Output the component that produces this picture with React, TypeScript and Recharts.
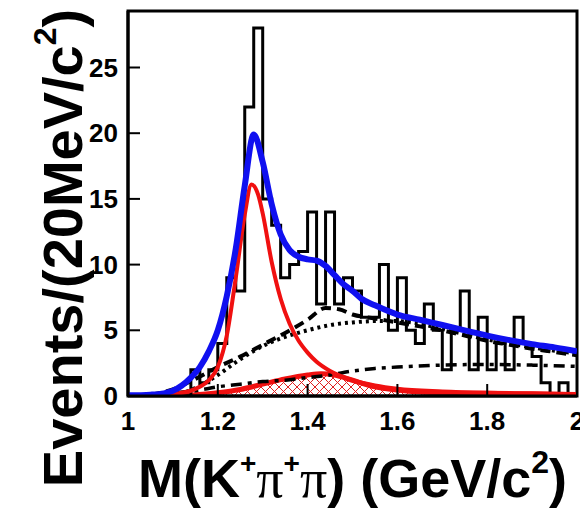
import React from 'react';
import { ComposedChart, Line, Area, XAxis, YAxis, ReferenceArea, Label } from 'recharts';

// Histogram: 20 MeV bins from 1.0 to 2.0 GeV
const binLow = 1.0;
const binWidth = 0.02;
const counts = [
  0, 0, 0, 0, 0, 0, 0, 2, 1, 2,
  4, 9, 8, 22, 28, 15, 13, 9, 10, 11,
  14, 7, 14, 7, 9, 8, 6, 6, 10, 5,
  9, 5, 4, 7, 5, 2, 5, 8, 2, 6,
  2, 4, 2, 6, 4, 3, 1, 0, 1, 0,
];

// Total fit (blue)
const totalM = [1.0, 1.05, 1.08, 1.1, 1.12, 1.14, 1.16, 1.18, 1.2, 1.22, 1.24, 1.26, 1.28, 1.3, 1.32, 1.34, 1.36, 1.38, 1.4, 1.42, 1.44, 1.46, 1.48, 1.5, 1.52, 1.55, 1.6, 1.65, 1.7, 1.75, 1.8, 1.85, 1.9, 1.95, 2.0];
const totalV = [0.05, 0.1, 0.2, 0.4, 0.8, 1.4, 2.2, 3.4, 5.0, 7.6, 11.2, 16.0, 19.9, 17.8, 14.6, 12.3, 11.1, 10.6, 10.4, 10.3, 9.9, 9.2, 8.5, 8.0, 7.4, 6.9, 6.2, 5.8, 5.4, 5.0, 4.6, 4.25, 3.95, 3.7, 3.4];

// K1(1270) component (red)
const k1M = [1.0, 1.05, 1.1, 1.14, 1.16, 1.18, 1.2, 1.22, 1.24, 1.26, 1.275, 1.29, 1.3, 1.32, 1.34, 1.36, 1.38, 1.4, 1.42, 1.45, 1.5, 1.55, 1.6, 1.7, 1.8, 1.9, 2.0];
const k1V = [0.02, 0.05, 0.15, 0.4, 0.7, 1.2, 2.2, 4.6, 9.0, 13.8, 16.1, 15.3, 13.9, 10.2, 7.4, 5.5, 4.2, 3.3, 2.6, 1.9, 1.2, 0.8, 0.55, 0.35, 0.25, 0.2, 0.15];

// Hatched component (red, cross-hatched)
const hatchM = [1.1, 1.15, 1.2, 1.25, 1.3, 1.35, 1.4, 1.43, 1.46, 1.5, 1.55, 1.6, 1.65, 1.7, 1.8, 1.9, 2.0];
const hatchV = [0, 0.1, 0.25, 0.5, 0.9, 1.3, 1.6, 1.7, 1.6, 1.2, 0.7, 0.45, 0.3, 0.25, 0.2, 0.15, 0.1];

// Dashed component
const dashM = [1.05, 1.1, 1.15, 1.2, 1.25, 1.3, 1.35, 1.4, 1.44, 1.47, 1.5, 1.55, 1.6, 1.65, 1.7, 1.75, 1.8, 1.85, 1.9, 1.95, 2.0];
const dashV = [0.1, 0.5, 1.3, 2.2, 3.0, 3.9, 4.8, 5.8, 6.7, 6.6, 6.2, 5.9, 5.6, 5.3, 5.0, 4.6, 4.2, 3.9, 3.6, 3.35, 3.1];

// Dotted component
const dotM = [1.1, 1.15, 1.2, 1.25, 1.3, 1.35, 1.4, 1.45, 1.5, 1.55, 1.6, 1.65, 1.7, 1.75, 1.8, 1.85, 1.9, 1.95, 2.0];
const dotV = [0, 0.6, 1.6, 2.8, 3.8, 4.5, 5.0, 5.4, 5.6, 5.7, 5.7, 5.5, 5.1, 4.7, 4.3, 4.0, 3.7, 3.45, 3.25];

// Dash-dot component
const ddM = [1.05, 1.1, 1.15, 1.2, 1.25, 1.3, 1.35, 1.4, 1.45, 1.5, 1.55, 1.6, 1.7, 1.8, 1.9, 2.0];
const ddV = [0.1, 0.25, 0.4, 0.7, 0.9, 1.1, 1.2, 1.4, 1.6, 1.9, 2.1, 2.2, 2.35, 2.4, 2.35, 2.25];

const xTicks = [1, 1.2, 1.4, 1.6, 1.8, 2];
const yTicks = [0, 5, 10, 15, 20, 25];
const yMax = 29.3;

const pair = (ms: number[], vs: number[]) => ms.map((m, i) => ({ m, v: vs[i] }));

const histData = [
  ...counts.map((c, i) => ({ m: +(binLow + i * binWidth).toFixed(2), v: c })),
  { m: +(binLow + counts.length * binWidth).toFixed(2), v: counts[counts.length - 1] },
];

const FONT = 'Liberation Sans, Arial, Helvetica, sans-serif';
const TICK_LEN = 12;

const XTick = (props: any) => {
  const { x, y, payload } = props;
  const v = payload.value;
  return (
    <g>
      <line x1={x} y1={y} x2={x} y2={y - TICK_LEN} stroke="#000" strokeWidth={2} />
      <text x={x} y={y + 34} textAnchor="middle" fontFamily={FONT} fontWeight="bold" fontSize={26} fill="#000">
        {String(v)}
      </text>
    </g>
  );
};

const YTick = (props: any) => {
  const { x, y, payload } = props;
  return (
    <g>
      <line x1={x} y1={y} x2={x + TICK_LEN} y2={y} stroke="#000" strokeWidth={2} />
      <text x={x - 10} y={y + 9} textAnchor="end" fontFamily={FONT} fontWeight="bold" fontSize={26} fill="#000">
        {String(payload.value)}
      </text>
    </g>
  );
};

const XTitle = (props: any) => {
  const vb = props.viewBox || {};
  const cx = vb.x + vb.width / 2;
  return (
    <text x={cx} y={497} textAnchor="middle" fontFamily={FONT} fontWeight="bold" fontSize={54} fill="#000">
      <tspan>M(K</tspan>
      <tspan fontSize={28} dy={-24}>+</tspan>
      <tspan fontFamily="Liberation Serif, Times New Roman, serif" fontWeight="normal" dy={24}>π</tspan>
      <tspan fontSize={28} dy={-24}>+</tspan>
      <tspan fontFamily="Liberation Serif, Times New Roman, serif" fontWeight="normal" dy={24}>π</tspan>
      <tspan>) (GeV/c</tspan>
      <tspan fontSize={32} dy={-24}>2</tspan>
      <tspan dy={24}>)</tspan>
    </text>
  );
};

const YTitle = () => {
  const x = 82;
  const y = 248;
  return (
    <text x={x} y={y} transform={`rotate(-90 ${x} ${y})`} textAnchor="middle" fontFamily={FONT} fontWeight="bold" fontSize={56} fill="#000">
      <tspan>Events/(20MeV/c</tspan>
      <tspan fontSize={32} dy={-26}>2</tspan>
      <tspan dy={26}>)</tspan>
    </text>
  );
};

export default function App() {
  return (
    <div style={{ position: 'absolute', left: 0, top: 0, background: '#fff' }}>
      <ComposedChart width={580} height={511} margin={{ top: 11, right: 3, bottom: 0, left: 0 }}>
        <defs>
          <pattern id="hatch" patternUnits="userSpaceOnUse" width="9" height="9">
            <path d="M0,0 L9,9 M9,0 L0,9" stroke="#e02020" strokeWidth="1" />
          </pattern>
        </defs>
        <XAxis
          dataKey="m"
          type="number"
          domain={[1, 2]}
          ticks={xTicks}
          allowDataOverflow
          height={115}
          tickSize={0}
          tickMargin={0}
          tickLine={false}
          tick={<XTick />}
          axisLine={{ stroke: '#000', strokeWidth: 3 }}
          interval={0}
        >
          <Label content={<XTitle />} />
        </XAxis>
        <YAxis
          type="number"
          domain={[0, yMax]}
          ticks={yTicks}
          allowDataOverflow
          width={128}
          tickSize={0}
          tickMargin={0}
          tickLine={false}
          tick={<YTick />}
          axisLine={{ stroke: '#000', strokeWidth: 3 }}
          interval={0}
        >
          <Label content={<YTitle />} />
        </YAxis>
        <Line data={histData} dataKey="v" type="stepAfter" stroke="#000" strokeWidth={3} dot={false} isAnimationActive={false} />
        <Line data={pair(dotM, dotV)} dataKey="v" type="monotone" stroke="#000" strokeWidth={4} strokeDasharray="3 4" dot={false} isAnimationActive={false} />
        <Line data={pair(dashM, dashV)} dataKey="v" type="monotone" stroke="#000" strokeWidth={4} strokeDasharray="10 6" dot={false} isAnimationActive={false} />
        <Line data={pair(ddM, ddV)} dataKey="v" type="monotone" stroke="#000" strokeWidth={3.5} strokeDasharray="11 6 4 6" dot={false} isAnimationActive={false} />
        <Area data={pair(hatchM, hatchV)} dataKey="v" type="monotone" fill="url(#hatch)" fillOpacity={1} stroke="#f01010" strokeWidth={5} baseValue={0} dot={false} activeDot={false} isAnimationActive={false} />
        <Line data={pair(k1M, k1V)} dataKey="v" type="monotone" stroke="#f01010" strokeWidth={4} dot={false} isAnimationActive={false} />
        <Line data={pair(totalM, totalV)} dataKey="v" type="monotone" stroke="#1010f0" strokeWidth={6} dot={false} isAnimationActive={false} />
        <ReferenceArea x1={1} x2={2} y1={0} y2={yMax} fill="none" stroke="#000" strokeWidth={3} ifOverflow="visible" />
      </ComposedChart>
    </div>
  );
}
